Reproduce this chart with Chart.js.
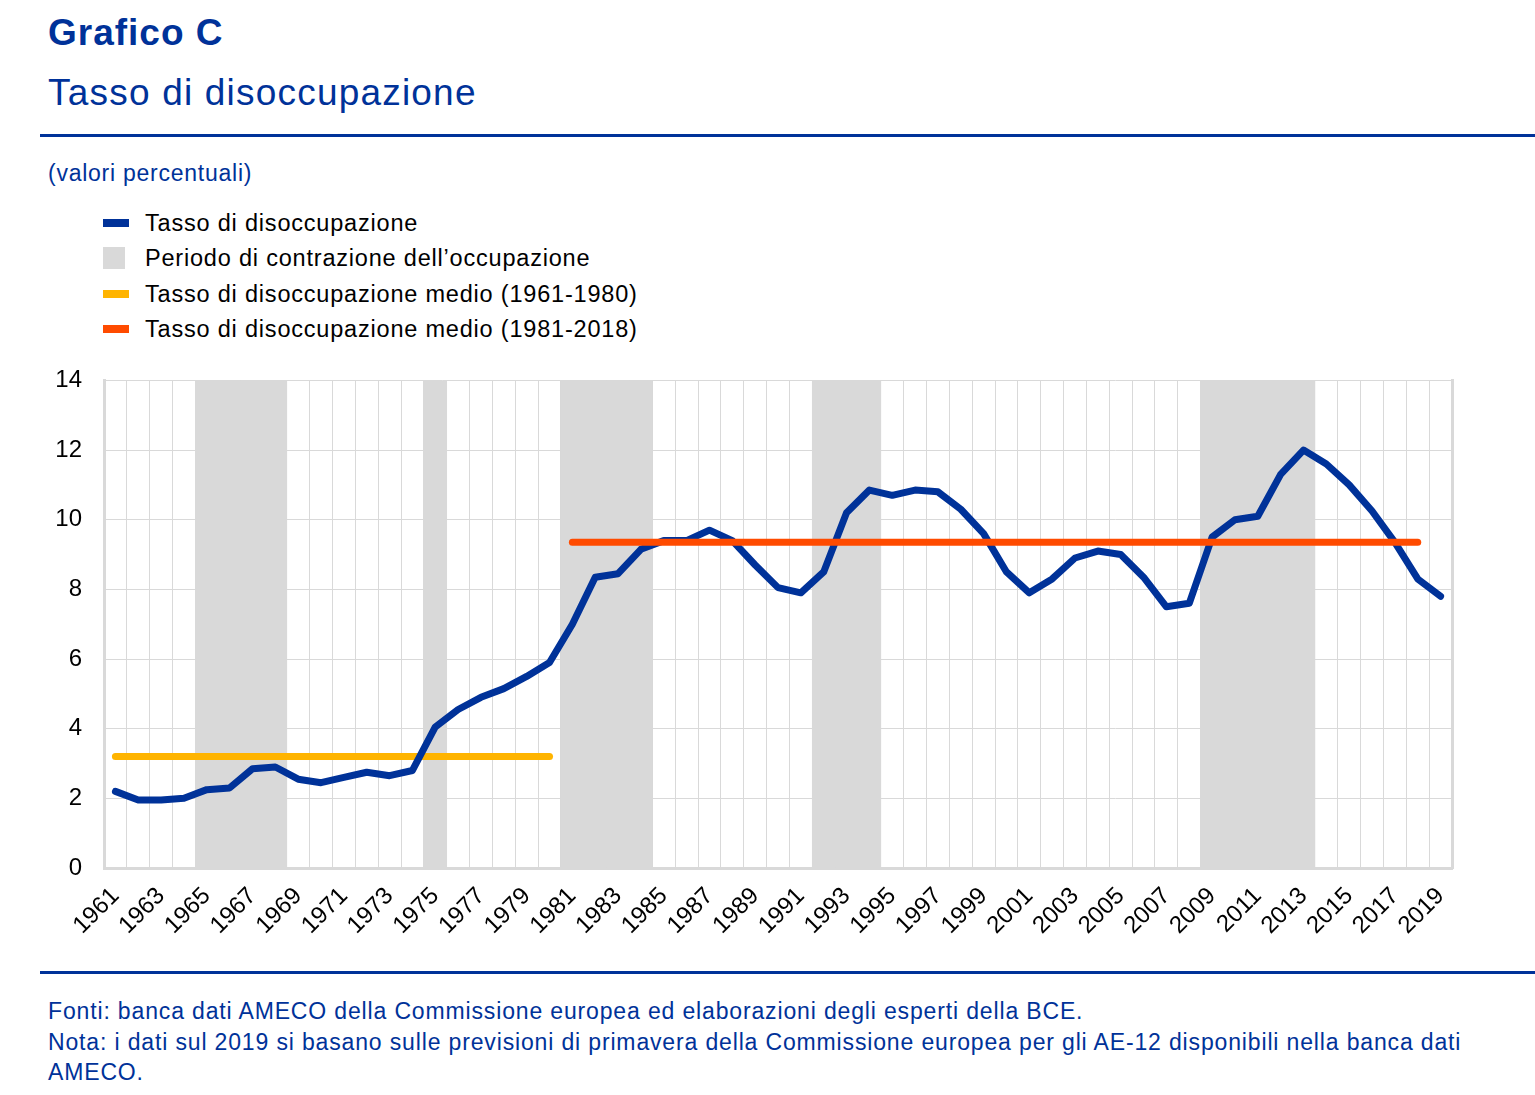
<!DOCTYPE html>
<html lang="it">
<head>
<meta charset="utf-8">
<title>Grafico C</title>
<script src="https://cdn.jsdelivr.net/npm/chart.js@4/dist/chart.umd.min.js"></script>
<style>
  html, body { margin: 0; padding: 0; background: #fff; }
  body { width: 1535px; height: 1095px; position: relative; font-family: "Liberation Sans", Arial, sans-serif; overflow: hidden; }
  .blu { color: #003299; }
  #titolo { position: absolute; left: 48px; top: 12px; font-size: 37px; font-weight: bold; letter-spacing: 1px; }
  #sottotitolo { position: absolute; left: 48px; top: 72px; font-size: 37px; letter-spacing: 1.2px; }
  .riga { position: absolute; left: 40px; right: 0; height: 3px; background: #003299; }
  #unita { position: absolute; left: 48px; top: 160px; font-size: 23px; letter-spacing: 0.75px; }
  #legenda { position: absolute; left: 103px; top: 208px; font-size: 23.5px; color: #000; letter-spacing: 0.8px; }
  #legenda div { height: 35.3px; position: relative; padding-left: 42px; line-height: 30px; }
  #legenda span { position: absolute; left: 0; }
  #wrap { position: absolute; left: 0; top: 344px; width: 1535px; height: 617px; }
  #note { position: absolute; left: 48px; top: 996px; font-size: 23px; line-height: 30.5px; letter-spacing: 0.85px; }
</style>
</head>
<body>
<div id="titolo" class="blu">Grafico C</div>
<div id="sottotitolo" class="blu">Tasso di disoccupazione</div>
<div class="riga" style="top:134px"></div>
<div id="unita" class="blu">(valori percentuali)</div>
<div id="legenda">
  <div><span style="top:11px;width:26px;height:8px;background:#003299"></span>Tasso di disoccupazione</div>
  <div><span style="top:4px;width:22px;height:22px;background:#d9d9d9"></span>Periodo di contrazione dell’occupazione</div>
  <div><span style="top:11px;width:26px;height:8px;background:#ffb400"></span>Tasso di disoccupazione medio (1961-1980)</div>
  <div><span style="top:11px;width:26px;height:8px;background:#ff4b00"></span>Tasso di disoccupazione medio (1981-2018)</div>
</div>
<div id="wrap"><canvas id="grafico"></canvas></div>
<div class="riga" style="top:971px"></div>
<div id="note" class="blu">Fonti: banca dati AMECO della Commissione europea ed elaborazioni degli esperti della BCE.<br>Nota: i dati sul 2019 si basano sulle previsioni di primavera della Commissione europea per gli AE-12 disponibili nella banca dati<br>AMECO.</div>

<script>
// anni 1961-2019
const anni = ['1961','1962','1963','1964','1965','1966','1967','1968','1969','1970',
  '1971','1972','1973','1974','1975','1976','1977','1978','1979','1980',
  '1981','1982','1983','1984','1985','1986','1987','1988','1989','1990',
  '1991','1992','1993','1994','1995','1996','1997','1998','1999','2000',
  '2001','2002','2003','2004','2005','2006','2007','2008','2009','2010',
  '2011','2012','2013','2014','2015','2016','2017','2018','2019'];

// tasso di disoccupazione (%)
const tasso = [2.2, 1.95, 1.95, 2.0, 2.25, 2.3, 2.85, 2.9, 2.55, 2.45,
  2.6, 2.75, 2.65, 2.8, 4.05, 4.55, 4.9, 5.15, 5.5, 5.9,
  7.0, 8.35, 8.45, 9.15, 9.4, 9.4, 9.7, 9.4, 8.7, 8.05,
  7.9, 8.5, 10.2, 10.85, 10.7, 10.85, 10.8, 10.3, 9.6, 8.5,
  7.9, 8.3, 8.9, 9.1, 9.0, 8.35, 7.5, 7.6, 9.5, 10.0,
  10.1, 11.3, 12.0, 11.6, 11.0, 10.25, 9.35, 8.3, 7.8];

// periodi di contrazione dell'occupazione
const contrazione = ['1965','1966','1967','1968','1975','1981','1982','1983','1984',
  '1992','1993','1994','2009','2010','2011','2012','2013'];

// medie
const media6180 = 3.2;
const media8118 = 9.35;

const fondo = anni.map(a => contrazione.includes(a) ? 14 : null);
const lineaMedia1 = anni.map(a => (+a <= 1980) ? media6180 : null);
const lineaMedia2 = anni.map(a => (+a >= 1981 && +a <= 2018) ? media8118 : null);

const grigio = '#d9d9d9';
Chart.defaults.font.family = '"Liberation Sans", Arial, sans-serif';
Chart.defaults.color = '#000';

new Chart(document.getElementById('grafico'), {
  type: 'bar',
  data: {
    labels: anni,
    datasets: [
      {
        type: 'line', data: lineaMedia2, borderColor: '#ff4b00', borderWidth: 7,
        borderCapStyle: 'round', pointRadius: 0, order: 1
      },
      {
        type: 'line', data: tasso, borderColor: '#003299', borderWidth: 7,
        borderCapStyle: 'round', borderJoinStyle: 'round', pointRadius: 0, order: 2
      },
      {
        type: 'line', data: lineaMedia1, borderColor: '#ffb400', borderWidth: 7,
        borderCapStyle: 'round', pointRadius: 0, order: 3
      },
      {
        type: 'bar', data: fondo, backgroundColor: grigio,
        barPercentage: 1, categoryPercentage: 1, order: 10
      }
    ]
  },
  options: {
    responsive: true,
    maintainAspectRatio: false,
    animation: false,
    layout: { padding: { top: 7, right: 83, left: 0, bottom: 0 } },
    plugins: { legend: { display: false }, tooltip: { enabled: false } },
    scales: {
      x: {
        offset: true,
        grid: { offset: true, color: grigio, lineWidth: 1, drawTicks: false },
        border: { color: grigio, width: 3 },
        ticks: {
          autoSkip: false, maxRotation: 45, minRotation: 45, padding: 14,
          font: { size: 24 },
          callback: function(v, i) { return i % 2 === 0 ? anni[i] : ''; }
        },
        afterFit: function(s) { s.height = 93; }
      },
      y: {
        min: 0, max: 14,
        grid: { color: grigio, lineWidth: 1, drawTicks: false },
        border: { color: grigio, width: 3 },
        ticks: { stepSize: 2, padding: 22, font: { size: 24 } },
        afterFit: function(s) { s.width = 104; }
      },
      y2: {
        position: 'right', min: 0, max: 14,
        grid: { drawOnChartArea: false, drawTicks: false },
        border: { color: grigio, width: 3 },
        ticks: { display: false },
        afterFit: function(s) { s.width = 0; }
      }
    }
  }
});
</script>
</body>
</html>
